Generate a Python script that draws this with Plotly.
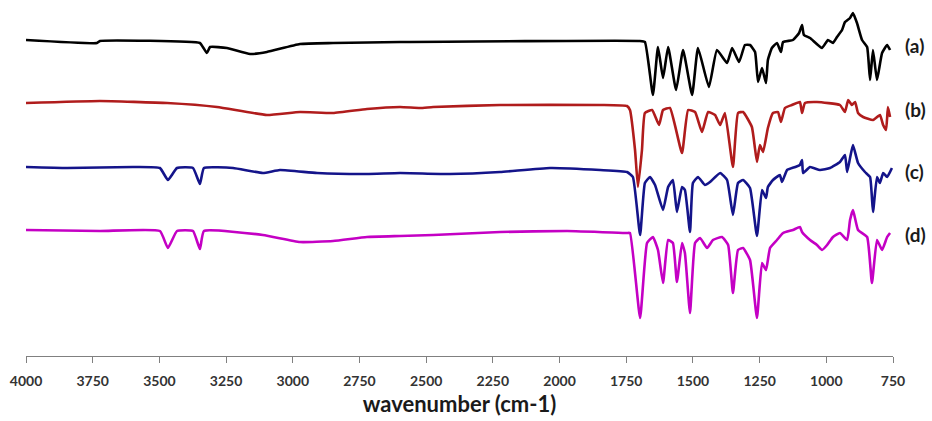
import plotly.graph_objects as go

# FTIR spectra, offset traces (transmittance in arbitrary units)
wn_a = [4000, 3734, 3723, 3348, 3337, 3322, 3310, 3247, 3160, 3097, 2973, 2849, 2598, 1700, 1680,
        1650, 1631, 1612, 1593, 1563, 1537, 1503, 1481, 1440, 1410, 1372, 1353, 1327, 1305, 1286,
        1267, 1256, 1241, 1226, 1219, 1204, 1185, 1170, 1162, 1125, 1102, 1091, 1084, 1061, 1016,
        994, 975, 960, 941, 930, 911, 900, 885, 866, 847, 836, 825, 810, 791, 772, 761]
t_a = [316, 313, 315, 313, 309, 303, 309, 308, 302, 304, 312, 313, 314, 315, 314,
       261, 309, 278, 309, 266, 306, 261, 308, 269, 306, 293, 308, 294, 311, 311,
       304, 274, 288, 273, 296, 308, 313, 304, 314, 316, 323, 331, 321, 318, 308,
       316, 313, 319, 326, 334, 338, 343, 333, 316, 309, 276, 306, 276, 303, 311, 306]

wn_b = [4000, 3723, 3471, 3284, 3097, 2973, 2849, 2722, 2598, 2523, 2474, 2223, 1848, 1747, 1736,
        1717, 1706, 1691, 1680, 1653, 1627, 1612, 1586, 1541, 1518, 1492, 1466, 1443, 1417, 1398,
        1380, 1350, 1331, 1312, 1279, 1260, 1249, 1237, 1219, 1200, 1181, 1170, 1155, 1129, 1099,
        1091, 1080, 1035, 949, 930, 918, 904, 892, 881, 862, 825, 799, 787, 776, 769, 761]
t_b = [253, 255, 253, 249, 241, 244, 243, 247, 249, 248, 249, 251, 251, 250, 246,
       206, 169, 206, 243, 246, 231, 246, 248, 203, 246, 244, 224, 244, 241, 231,
       243, 189, 243, 244, 229, 194, 211, 204, 228, 243, 244, 234, 248, 251, 254,
       243, 253, 254, 251, 244, 256, 251, 254, 243, 239, 236, 241, 231, 226, 249, 239]

wn_c = [4000, 3846, 3599, 3498, 3468, 3434, 3374, 3348, 3333, 3224, 3112, 3048, 2909, 2722, 2598,
        2411, 2223, 2036, 1848, 1747, 1725, 1698, 1680, 1661, 1642, 1612, 1593, 1575, 1560, 1541,
        1530, 1511, 1500, 1481, 1455, 1436, 1398, 1372, 1350, 1331, 1312, 1286, 1260, 1241, 1226,
        1219, 1200, 1174, 1166, 1147, 1117, 1099, 1091, 1087, 1061, 1024, 986, 949, 930, 922,
        911, 900, 881, 855, 836, 825, 810, 799, 787, 772, 754]
t_c = [189, 188, 189, 188, 176, 188, 188, 172, 188, 188, 183, 186, 183, 182, 183,
       182, 184, 188, 186, 184, 179, 121, 173, 179, 171, 146, 169, 176, 144, 169,
       166, 124, 173, 179, 171, 174, 183, 176, 141, 173, 176, 168, 120, 166, 158,
       169, 176, 181, 174, 186, 189, 191, 196, 183, 189, 186, 188, 194, 201, 184,
       198, 211, 193, 184, 179, 144, 179, 173, 183, 179, 188]

wn_d = [4000, 3723, 3498, 3468, 3434, 3374, 3348, 3333, 3112, 2973, 2849, 2722, 2598, 2474, 2223,
        1972, 1747, 1736, 1698, 1672, 1650, 1631, 1612, 1593, 1575, 1560, 1541, 1530, 1511, 1492,
        1473, 1447, 1425, 1391, 1368, 1350, 1331, 1312, 1286, 1260, 1241, 1226, 1211, 1185, 1162,
        1125, 1099, 1091, 1061, 1035, 1016, 997, 975, 949, 922, 911, 900, 881, 847, 829,
        810, 791, 772, 761]
t_d = [126, 125, 125, 108, 125, 125, 107, 125, 121, 114, 115, 119, 120, 121, 124,
       125, 123, 123, 38, 113, 119, 106, 73, 116, 113, 74, 113, 103, 43, 113,
       118, 108, 116, 119, 111, 63, 106, 108, 96, 38, 93, 86, 108, 116, 123,
       126, 129, 124, 116, 111, 106, 111, 119, 123, 116, 136, 146, 126, 119, 73,
       116, 106, 119, 123]

labels = ["(a)", "(b)", "(c)", "(d)"]
label_pos = [311, 247, 185, 122]
colors = ["#000000", "#b01c1c", "#14148a", "#c400c4"]

tick_vals = [4000, 3750, 3500, 3250, 3000, 2750, 2500, 2250, 2000, 1750, 1500, 1250, 1000, 750]

series = [(wn_a, t_a), (wn_b, t_b), (wn_c, t_c), (wn_d, t_d)]

fig = go.Figure()
for (wn, t), col in zip(series, colors):
    fig.add_trace(go.Scatter(x=wn, y=t, mode="lines",
                             line=dict(color=col, width=2.6, shape="spline", smoothing=0.4),
                             hoverinfo="skip"))

for lab, yp in zip(labels, label_pos):
    fig.add_annotation(x=1.011, xref="paper", y=yp, yref="y", text="<b>%s</b>" % lab,
                       showarrow=False, xanchor="left", yanchor="middle",
                       font=dict(family="Lato", size=19, color="#1a1a1a"))

fig.update_layout(
    width=932, height=421,
    margin=dict(l=26, r=39, t=0, b=65),
    paper_bgcolor="white", plot_bgcolor="white",
    showlegend=False,
    xaxis=dict(range=[4000, 750], tickvals=tick_vals, ticktext=[str(v) for v in tick_vals],
               showgrid=False, zeroline=False, showline=True, linecolor="#808080", linewidth=1,
               ticks="outside", ticklen=6, tickcolor="#808080",
               tickfont=dict(family="Lato", size=14, color="#333333", weight="bold"),
               ticklabelstandoff=6,
               title=dict(text="wavenumber (cm-1)", standoff=8,
                          font=dict(family="Lato", size=22, color="#1a1a1a", weight="bold"))),
    yaxis=dict(range=[0, 356], visible=False, fixedrange=True),
)

fig.write_html("out.html")
